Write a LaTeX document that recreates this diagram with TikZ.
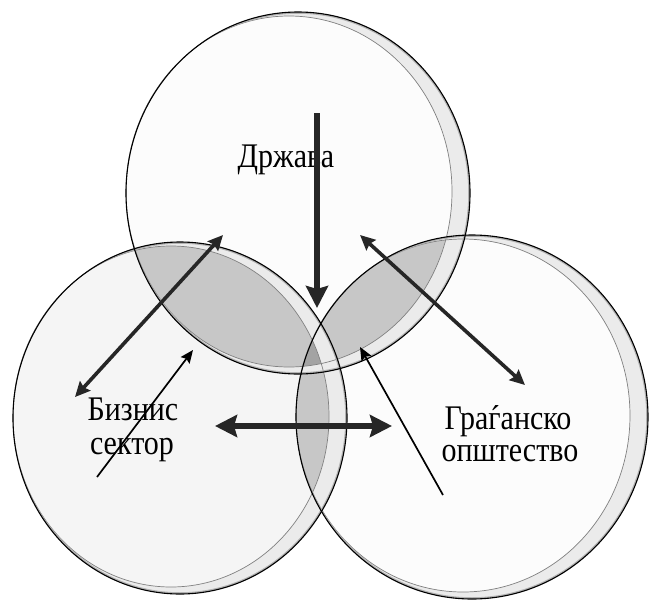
\documentclass[tikz,border=0pt]{standalone}
\usepackage{fontspec}
\usepackage{graphicx}
\setmainfont{Liberation Serif}
\usetikzlibrary{arrows.meta}
\newcommand\topell{(298,193) ellipse [x radius=172, y radius=181]}
\newcommand\topin{(289,191.5) ellipse [x radius=163, y radius=175.5]}
\newcommand\leftell{(180,418) ellipse [x radius=167, y radius=176]}
\newcommand\leftin{(171,416.5) ellipse [x radius=158, y radius=170.5]}
\newcommand\rightell{(472,417) ellipse [x radius=176, y radius=182]}
\newcommand\rightin{(463,415.5) ellipse [x radius=167, y radius=176.5]}
\newcommand\tall[1]{\scalebox{1}[1.15]{#1}}
\tikzset{
  rimfill/.style={fill=black!8, even odd rule},
  outerband/.style={draw=black!30, line width=3.5pt},
  outerline/.style={draw=black, line width=1.1pt},
  innerline/.style={draw=black!50, line width=0.7pt},
  lens/.style={fill=black!22},
  triple/.style={fill=black!36},
  label/.style={font=\fontsize{30}{32}\selectfont, inner sep=0pt},
  thickdouble/.style={line width=3.6pt, {Stealth[length=15pt,width=14pt,inset=2pt]}-{Stealth[length=15pt,width=14pt,inset=2pt]}},
  bigarrow/.style={line width=6pt, -{Stealth[length=22pt,width=22pt,inset=3pt]}},
  bigdouble/.style={line width=6pt, {Stealth[length=22pt,width=22pt,inset=3pt]}-{Stealth[length=22pt,width=22pt,inset=3pt]}},
  thinarrow/.style={line width=1.7pt, -{Stealth[length=13pt,width=11pt,inset=2pt]}}
}
\begin{document}
\begin{tikzpicture}[x=1pt,y=-1pt]
\useasboundingbox (0,0) rectangle (649,603);
\fill[white] (0,0) rectangle (649,603);
% base fills
\fill[black!4] \leftell;
\fill[black!1] \topell;
\fill[black!1] \rightell;
% pairwise overlaps
\begin{scope}\clip \topell; \fill[lens] \leftell; \end{scope}
\begin{scope}\clip \topell; \fill[lens] \rightell; \end{scope}
\begin{scope}\clip \leftell; \fill[lens] \rightell; \end{scope}
\begin{scope}\clip \topell; \clip \leftell; \fill[triple] \rightell; \end{scope}
% rims
\path[rimfill] \topell \topin;
\path[rimfill] \leftell \leftin;
\path[rimfill] \rightell \rightin;
\path[innerline] \topin;
\path[innerline] \leftin;
\path[innerline] \rightin;
\begin{scope}[even odd rule]
  \clip \topell \topin;
  \path[outerband] \topell;
\end{scope}
\begin{scope}[even odd rule]
  \clip \leftell \leftin;
  \path[outerband] \leftell;
\end{scope}
\begin{scope}[even odd rule]
  \clip \rightell \rightin;
  \path[outerband] \rightell;
\end{scope}
\path[outerline] \topell;
\path[outerline] \leftell;
\path[outerline] \rightell;
% labels
\node[label, anchor=base] (drz) at (286,167) {\tall{Држава}};
\node[label, anchor=base] (biz1) at (133,420) {\tall{Бизнис}};
\node[label, anchor=base] (biz2) at (132,454) {\tall{сектор}};
\node[label, anchor=base] (gra1) at (508,429) {\tall{Граѓанско}};
\node[label, anchor=base] (gra2) at (510,461) {\tall{општество}};
% arrow end points
\coordinate (vA) at (317,113);
\coordinate (vB) at (317,308);
\coordinate (lA) at (223,235);
\coordinate (lB) at (75,397);
\coordinate (tlA) at (97,477);
\coordinate (tlB) at (193,350);
\coordinate (hA) at (215,426);
\coordinate (hB) at (392,426);
\coordinate (rA) at (360,235);
\coordinate (rB) at (525,385);
\coordinate (trA) at (443,495);
\coordinate (trB) at (360,347);
\draw[bigarrow, draw=black!85, fill=black!85] (vA) -- (vB);
\draw[thickdouble, draw=black!85, fill=black!85] (lA) -- (lB);
\draw[thinarrow] (tlA) -- (tlB);
\draw[bigdouble, draw=black!85, fill=black!85] (hA) -- (hB);
\draw[thickdouble, draw=black!85, fill=black!85] (rA) -- (rB);
\draw[thinarrow] (trA) -- (trB);
\end{tikzpicture}
\end{document}
